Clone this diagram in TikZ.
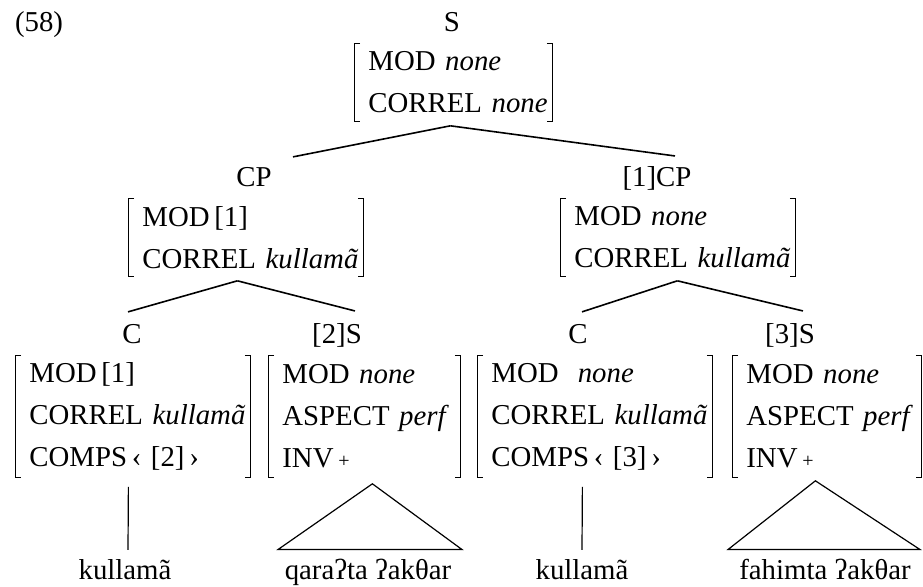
\documentclass[tikz,border=0pt]{standalone}
\usepackage{fontspec}
\setmainfont{Liberation Serif}

\begin{document}
\begin{tikzpicture}
  [
   x=0.5pt,y=-0.5pt,
   font=\fontsize{14.4}{21}\selectfont,
   cat/.style={anchor=base},
   avm/.style={align=left,inner xsep=0pt,inner ysep=0pt,anchor=north west},
   avmtwo/.style={avm,minimum height=39pt},
   avmthree/.style={avm,minimum height=61pt},
   brk/.style={line width=0.5pt},
   branch/.style={line width=0.8pt},
   lexline/.style={line width=0.6pt}
  ]
   \useasboundingbox (0,0) rectangle (923,586);

   \node[anchor=base west] (ex) at (8,31) {(58)};
   \node[cat] (s) at (452,31) {S};
   \node[avmtwo,text width=95pt] (sa) at (368,43) {MOD \textit{none}\\CORREL \textit{none}};

   \node[cat] (cpl) at (254,186) {CP};
   \node[avmtwo,text width=113.5pt] (cpla) at (142,198) {MOD\,[1]\\CORREL \textit{kullamã}};
   \node[cat] (cpr) at (657,186) {[1]CP};
   \node[avmtwo,text width=113.5pt] (cpra) at (574,198) {MOD \textit{none}\\CORREL \textit{kullamã}};

   \node[cat] (cl) at (132,343) {C};
   \node[avmthree,text width=113.5pt] (cla) at (29,355) {MOD\,[1]\\CORREL \textit{kullamã}\\COMPS\,‹ [2]\,›};
   \node[cat] (sl) at (337,343) {[2]S};
   \node[avmthree,text width=92pt] (sla) at (282,355) {MOD \textit{none}\\ASPECT \textit{perf}\\INV\,{\fontsize{10}{10}\selectfont +}};
   \node[cat] (cr) at (578,343) {C};
   \node[avmthree,text width=113.5pt] (cra) at (491,355) {MOD\ \ \textit{none}\\CORREL \textit{kullamã}\\COMPS\,‹ [3]\,›};
   \node[cat] (sr) at (790,343) {[3]S};
   \node[avmthree,text width=90.5pt] (sra) at (746,355) {MOD \textit{none}\\ASPECT \textit{perf}\\INV\,{\fontsize{10}{10}\selectfont +}};

   \node[cat] (la) at (125,579) {kullamã};
   \node[cat] (lq) at (368,579) {qaraʔta ʔakθar};
   \node[cat] (lc) at (582,579) {kullamã};
   \node[cat] (lf) at (825,579) {fahimta ʔakθar};

   \foreach \n in {sa,cpla,cpra,cla,sla,cra,sra}
   {
     \draw[brk] ([shift={(-8,0)}]\n.north west) -- ([shift={(-14,0)}]\n.north west)
                -- ([shift={(-14,0)}]\n.south west) -- ([shift={(-8,0)}]\n.south west);
     \draw[brk] ([shift={(-12,0)}]\n.north east) -- ([shift={(-6,0)}]\n.north east)
                -- ([shift={(-6,0)}]\n.south east) -- ([shift={(-12,0)}]\n.south east);
   }

   \draw[branch] ([shift={(-13,4)}]sa.south) -- ([shift={(39,-3)}]cpl.north);
   \draw[branch] ([shift={(-13,4)}]sa.south) -- ([shift={(18,-3)}]cpr.north);
   \draw[branch] ([shift={(-18.5,4)}]cpla.south) -- ([shift={(-4,-5)}]cl.north);
   \draw[branch] ([shift={(-18.5,4)}]cpla.south) -- ([shift={(18,-5)}]sl.north);
   \draw[branch] ([shift={(-10.5,4)}]cpra.south) -- ([shift={(4,-5)}]cr.north);
   \draw[branch] ([shift={(-10.5,4)}]cpra.south) -- ([shift={(13,-5)}]sr.north);

   \draw[lexline] ([shift={(-14.5,9)}]cla.south) -- ([shift={(3,-2)}]la.north);
   \draw[lexline] ([shift={(-22.5,9)}]cra.south) -- ([shift={(0,-2)}]lc.north);
   \draw[lexline] ([shift={(-2,6)}]sla.south) -- ([shift={(-90,-2)}]lq.north)
                  -- ([shift={(94,-2)}]lq.north) -- cycle;
   \draw[lexline] ([shift={(-21.5,3)}]sra.south) -- ([shift={(-97,-2)}]lf.north)
                  -- ([shift={(95,-2)}]lf.north) -- cycle;

\end{tikzpicture}
\end{document}
